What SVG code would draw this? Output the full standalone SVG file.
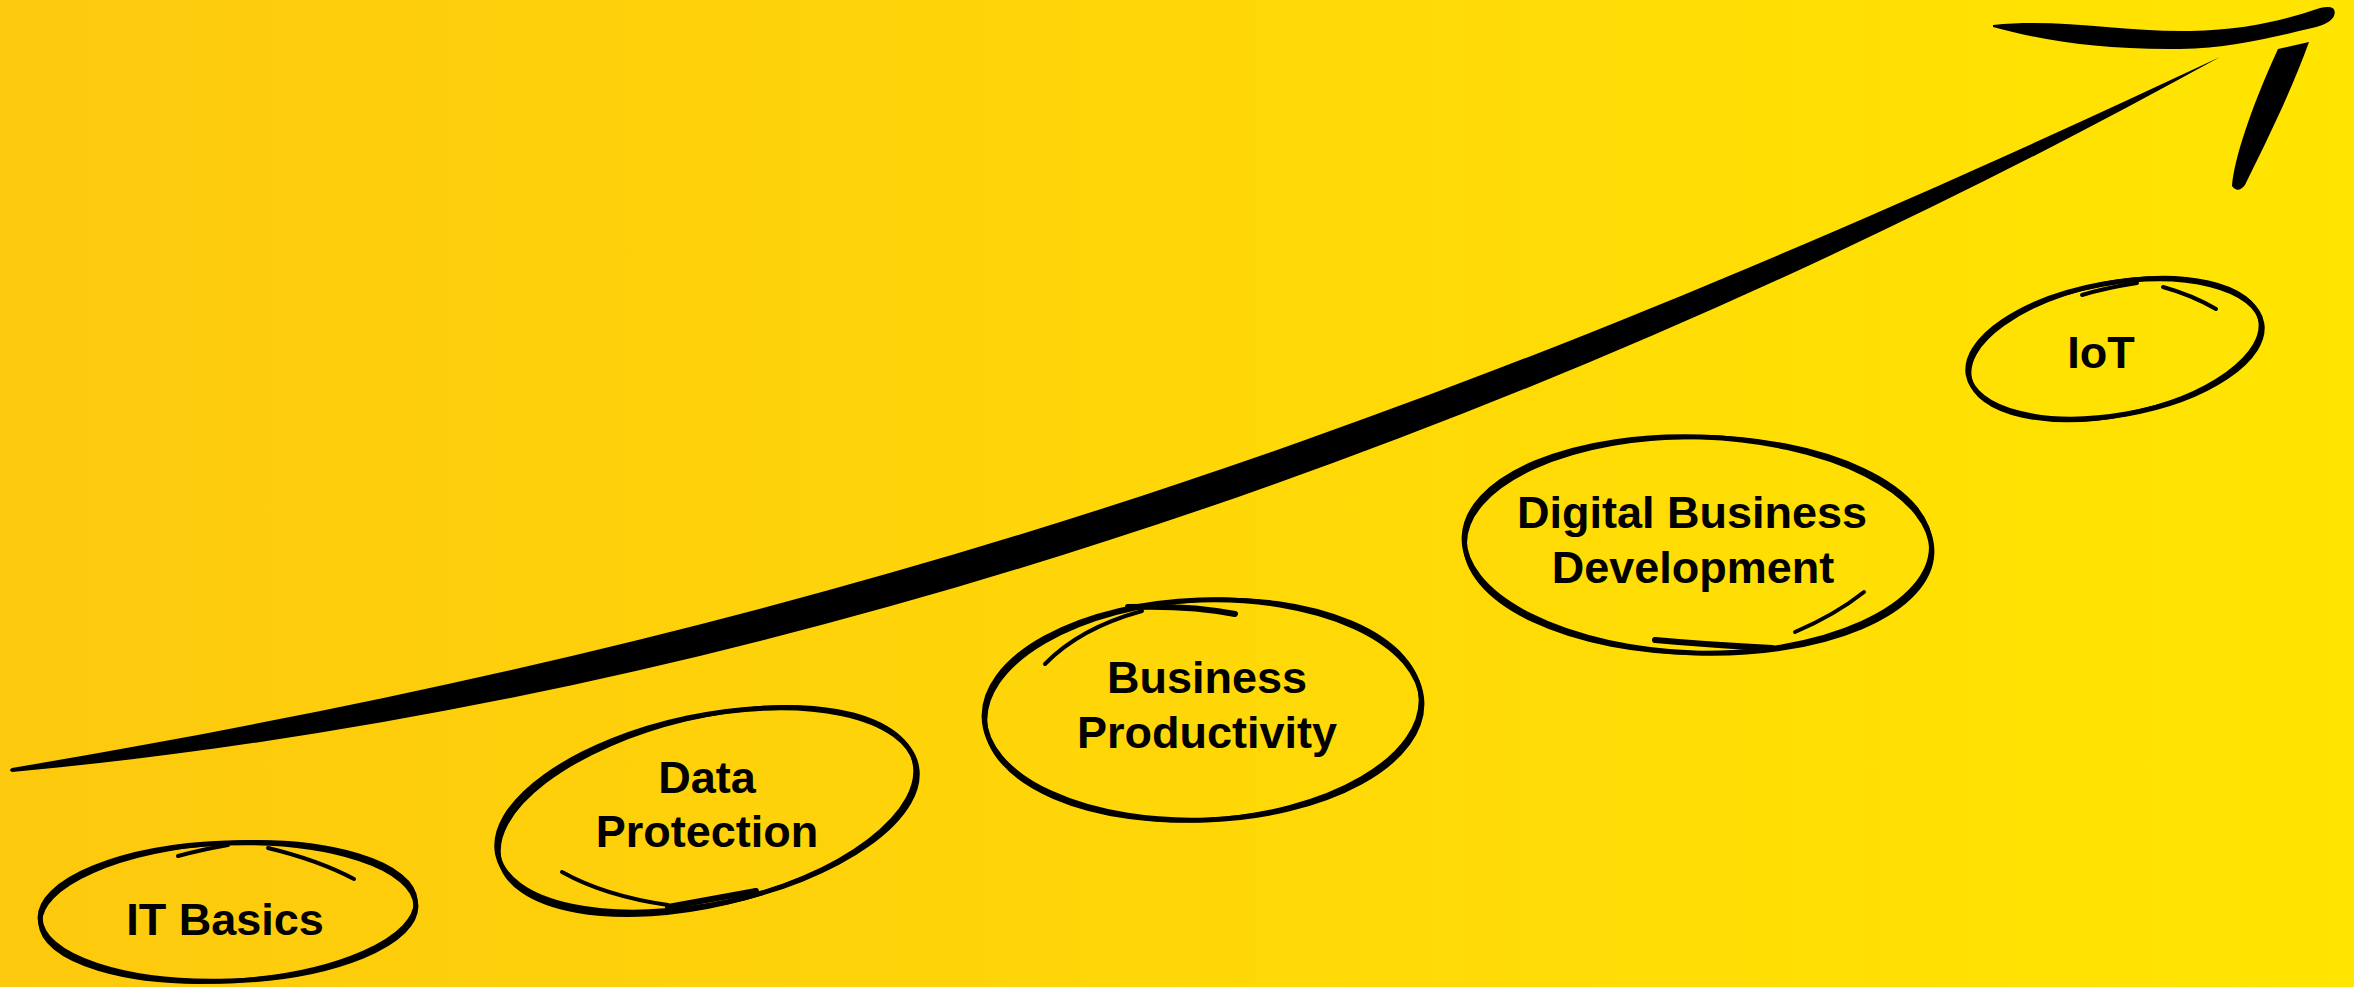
<svg xmlns="http://www.w3.org/2000/svg" width="2354" height="987" viewBox="0 0 2354 987">
<defs>
<linearGradient id="bg" x1="0" y1="0" x2="1" y2="0">
<stop offset="0" stop-color="#FDC90E"/>
<stop offset="0.5" stop-color="#FFD708"/>
<stop offset="1" stop-color="#FFE500"/>
</linearGradient>
<style>
.loop{fill:none;stroke:#000;stroke-width:5}
.loop2{fill:none;stroke:#000;stroke-width:4}
.tail{fill:none;stroke:#000;stroke-width:4;stroke-linecap:round}
.thick{fill:none;stroke:#000;stroke-width:6;stroke-linecap:round}
.ink{fill:#000;stroke:none}
.lbl{font-family:"Liberation Sans",Arial,Helvetica,sans-serif;font-weight:bold;font-size:45px;fill:#000;text-anchor:middle}
</style>
</defs>
<rect x="0" y="0" width="2354" height="987" fill="url(#bg)"/>
<g id="connectors">
<path class="ink" d="M12,768 C814,632 1395,445 2220,57 C1505,452 728,706 12,772 Q8,770 12,768 Z"/>
<path class="ink" d="M1993,25 C2060,18 2120,32 2190,31 C2250,30 2290,18 2320,8 Q2338,4 2334,16 Q2330,24 2312,28 C2270,38 2230,48 2180,49 C2100,50 2040,40 1993,27 Z"/>
<path class="ink" d="M2278,49 L2309,42 C2290,95 2262,150 2245,185 Q2238,194 2232,186 C2234,160 2250,110 2278,49 Z"/>
</g>
<g id="it-basics">
<ellipse class="loop" cx="228" cy="912" rx="188" ry="69" transform="rotate(-2 228 912)"/>
<ellipse class="loop2" cx="228" cy="912" rx="188" ry="69" transform="rotate(-3.5 228 912)"/>
<path class="tail" d="M178,856 Q200,850 228,845"/>
<path class="tail" d="M268,848 Q318,860 354,879"/>
<text class="lbl" x="225" y="935">IT Basics</text>
</g>
<g id="data-protection">
<ellipse class="loop" cx="707" cy="810" rx="214" ry="94" transform="rotate(-12 707 810)"/>
<ellipse class="loop2" cx="707" cy="811" rx="213" ry="94" transform="rotate(-13.5 707 811)"/>
<path class="tail" d="M562,872 Q605,896 668,905"/>
<path class="thick" d="M756,891 Q712,899 668,907"/>
<text class="lbl" x="707" y="793">Data</text>
<text class="lbl" x="707" y="847">Protection</text>
</g>
<g id="business-productivity">
<ellipse class="loop" cx="1203" cy="710" rx="219" ry="110" transform="rotate(-2 1203 710)"/>
<ellipse class="loop2" cx="1203" cy="710" rx="218" ry="110" transform="rotate(-3.5 1203 710)"/>
<path class="tail" d="M1045,664 Q1080,628 1142,611"/>
<path class="thick" d="M1235,614 Q1190,605 1128,607"/>
<text class="lbl" x="1207" y="693">Business</text>
<text class="lbl" x="1207" y="748">Productivity</text>
</g>
<g id="digital-business-development">
<ellipse class="loop" cx="1698" cy="545" rx="234" ry="108" transform="rotate(2 1698 545)"/>
<ellipse class="loop2" cx="1698" cy="545" rx="233" ry="108" transform="rotate(0.5 1698 545)"/>
<path class="tail" d="M1864,592 Q1835,615 1795,632"/>
<path class="thick" d="M1655,640 Q1710,645 1772,648"/>
<text class="lbl" x="1692" y="528">Digital Business</text>
<text class="lbl" x="1693" y="583">Development</text>
</g>
<g id="iot">
<ellipse class="loop" cx="2115" cy="349" rx="149" ry="66" transform="rotate(-10 2115 349)"/>
<ellipse class="loop2" cx="2115" cy="349" rx="148" ry="66" transform="rotate(-11.5 2115 349)"/>
<path class="tail" d="M2082,295 Q2105,288 2137,283"/>
<path class="tail" d="M2216,309 Q2192,295 2163,287"/>
<text class="lbl" x="2101" y="368">IoT</text>
</g>
</svg>
